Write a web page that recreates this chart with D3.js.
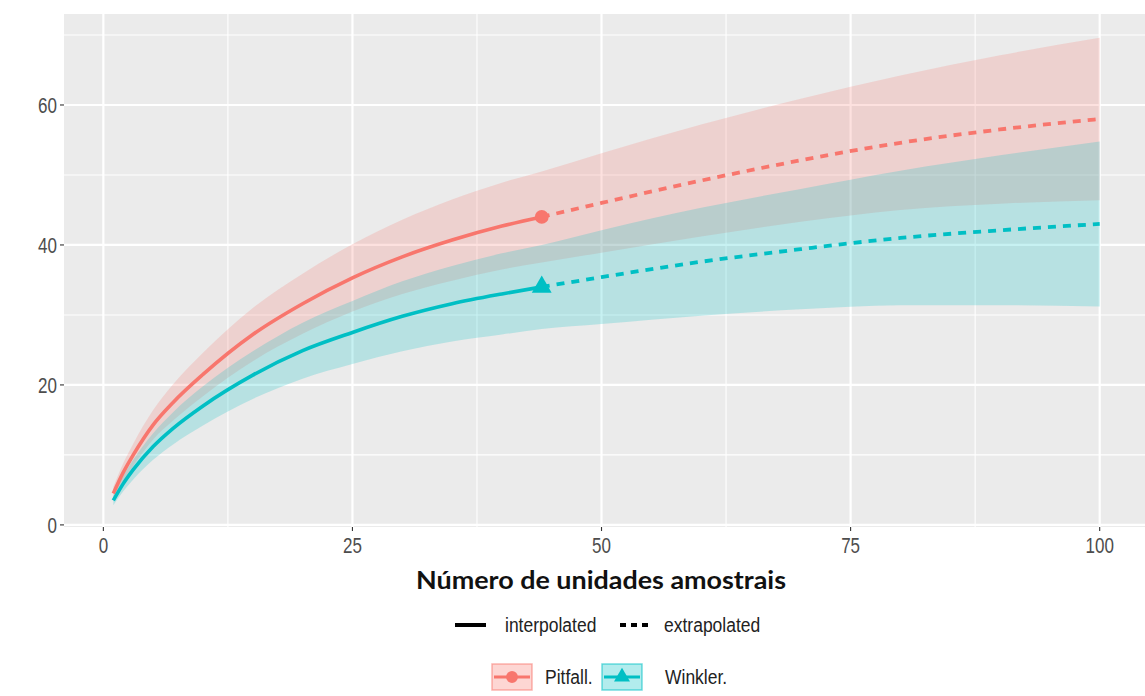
<!DOCTYPE html>
<html>
<head>
<meta charset="utf-8">
<script src="https://cdn.jsdelivr.net/npm/d3@7"></script>
<style>
  body { margin: 0; background: #fff; }
  svg { display: block; }
</style>
</head>
<body>
<svg id="chart" width="1145" height="696"></svg>
<script>
// Sample sizes: observed range (interpolated) and beyond it (extrapolated)
const sampleInterp = [1, 2, 3, 5, 7, 10, 15, 20, 25, 30, 35, 40, 44];
const sampleExtrap = [44, 50, 60, 70, 80, 90, 100];

// Pitfall: richness estimate and 95% band
const pitfallInterp   = [4.5, 7.5, 10.0, 14.3, 17.5, 21.5, 27.2, 31.6, 35.3, 38.3, 40.7, 42.7, 44.0];
const pitfallInterpLo = [3.6, 6.2, 8.4, 12.2, 14.9, 18.4, 23.4, 27.3, 30.5, 33.0, 34.9, 36.5, 37.5];
const pitfallInterpHi = [5.4, 8.8, 11.6, 16.4, 20.1, 24.6, 31.0, 35.9, 40.1, 43.6, 46.5, 48.9, 50.5];
const pitfallExtrap   = [44.0, 46.0, 49.2, 52.1, 54.6, 56.5, 58.0];
const pitfallExtrapLo = [37.5, 38.9, 41.2, 43.3, 45.0, 45.9, 46.4];
const pitfallExtrapHi = [50.5, 53.1, 57.2, 60.9, 64.2, 67.1, 69.6];

// Winkler: richness estimate and 95% band
const winklerInterp   = [3.5, 5.9, 7.9, 11.2, 13.8, 17.0, 21.4, 24.9, 27.5, 29.8, 31.6, 33.0, 34.0];
const winklerInterpLo = [2.8, 4.8, 6.5, 9.3, 11.5, 14.2, 18.0, 20.9, 23.0, 24.8, 26.2, 27.2, 28.0];
const winklerInterpHi = [4.2, 7.0, 9.3, 13.1, 16.1, 19.8, 24.8, 28.9, 32.0, 34.8, 37.0, 38.8, 40.0];
const winklerExtrap   = [34.0, 35.4, 37.6, 39.4, 41.0, 42.1, 43.0];
const winklerExtrapLo = [28.0, 28.7, 29.9, 30.8, 31.4, 31.4, 31.2];
const winklerExtrapHi = [40.0, 42.1, 45.3, 48.0, 50.6, 52.8, 54.8];

const observedSize = 44;
const xTicks = [0, 25, 50, 75, 100];
const yTicks = [0, 20, 40, 60];
const xMinor = [12.5, 37.5, 62.5, 87.5];
const yMinor = [10, 30, 50, 70];

const seriesNames = ["Pitfall.", "Winkler."];
const methodNames = ["interpolated", "extrapolated"];
const colors = ["#F8766D", "#00BFC4"];

const svg = d3.select("#chart");
const panel = { left: 64, top: 14, bottom: 527, right: 1149 };

const x = d3.scaleLinear().domain([-3.95, 104.95]).range([panel.left, panel.right]);
const y = d3.scaleLinear().domain([-0.3, 73]).range([panel.bottom, panel.top]);

const defs = svg.append("defs");
defs.append("clipPath").attr("id", "panelClip")
  .append("rect")
  .attr("x", panel.left).attr("y", panel.top)
  .attr("width", panel.right - panel.left).attr("height", panel.bottom - panel.top);

// panel background
svg.append("rect")
  .attr("x", panel.left).attr("y", panel.top)
  .attr("width", panel.right - panel.left).attr("height", panel.bottom - panel.top)
  .attr("fill", "#EBEBEB");

const grid = svg.append("g").attr("clip-path", "url(#panelClip)");
grid.selectAll(".ymin").data(yMinor).join("line")
  .attr("x1", panel.left).attr("x2", panel.right)
  .attr("y1", d => y(d)).attr("y2", d => y(d))
  .attr("stroke", "#fff").attr("stroke-width", 1.1);
grid.selectAll(".xmin").data(xMinor).join("line")
  .attr("y1", panel.top).attr("y2", panel.bottom)
  .attr("x1", d => x(d)).attr("x2", d => x(d))
  .attr("stroke", "#fff").attr("stroke-width", 1.1);
grid.selectAll(".ymaj").data(yTicks).join("line")
  .attr("x1", panel.left).attr("x2", panel.right)
  .attr("y1", d => y(d)).attr("y2", d => y(d))
  .attr("stroke", "#fff").attr("stroke-width", 2.2);
grid.selectAll(".xmaj").data(xTicks).join("line")
  .attr("y1", panel.top).attr("y2", panel.bottom)
  .attr("x1", d => x(d)).attr("x2", d => x(d))
  .attr("stroke", "#fff").attr("stroke-width", 2.2);

// assemble each series
function build(sInterp, lo1, hi1, sExtrap, lo2, hi2, est1, est2) {
  const band = sampleInterp.map((n, i) => ({ n, lo: lo1[i], hi: hi1[i] }))
    .concat(sampleExtrap.slice(1).map((n, i) => ({ n, lo: lo2[i + 1], hi: hi2[i + 1] })));
  const interp = sampleInterp.map((n, i) => ({ n, v: est1[i] }));
  const extrap = sampleExtrap.map((n, i) => ({ n, v: est2[i] }));
  return { band, interp, extrap };
}
const series = [
  build(sampleInterp, pitfallInterpLo, pitfallInterpHi, sampleExtrap, pitfallExtrapLo, pitfallExtrapHi, pitfallInterp, pitfallExtrap),
  build(sampleInterp, winklerInterpLo, winklerInterpHi, sampleExtrap, winklerExtrapLo, winklerExtrapHi, winklerInterp, winklerExtrap)
];

const area = d3.area().curve(d3.curveMonotoneX)
  .x(d => x(d.n)).y0(d => y(d.lo)).y1(d => y(d.hi));
const line = d3.line().curve(d3.curveMonotoneX)
  .x(d => x(d.n)).y(d => y(d.v));

const plot = svg.append("g").attr("clip-path", "url(#panelClip)");
series.forEach((s, i) => {
  plot.append("path").attr("d", area(s.band))
    .attr("fill", colors[i]).attr("fill-opacity", 0.22);
});
series.forEach((s, i) => {
  plot.append("path").attr("d", line(s.interp))
    .attr("fill", "none").attr("stroke", colors[i]).attr("stroke-width", 3.6);
  plot.append("path").attr("d", line(s.extrap))
    .attr("fill", "none").attr("stroke", colors[i]).attr("stroke-width", 3.8)
    .attr("stroke-dasharray", "8,7");
});
// observed points
const circleSym = d3.symbol().type(d3.symbolCircle).size(150);
const triSym = d3.symbol().type(d3.symbolTriangle).size(170);
plot.append("path").attr("d", circleSym())
  .attr("transform", `translate(${x(observedSize)},${y(pitfallInterp[pitfallInterp.length - 1])})`)
  .attr("fill", colors[0]);
plot.append("path").attr("d", triSym())
  .attr("transform", `translate(${x(observedSize)},${y(winklerInterp[winklerInterp.length - 1])})`)
  .attr("fill", colors[1]);

// text helper: ggplot-like text, slightly tall
function label(g, px, py, str, opt) {
  const o = Object.assign({ size: 17, sy: 1.25, anchor: "middle", fill: "#4D4D4D", weight: "normal",
    family: "'Liberation Sans', Arial, sans-serif" }, opt || {});
  return g.append("text")
    .attr("transform", `translate(${px},${py}) scale(1,${o.sy})`)
    .attr("text-anchor", o.anchor)
    .attr("dy", "0.36em")
    .attr("font-family", o.family)
    .attr("font-size", o.size)
    .attr("font-weight", o.weight)
    .attr("fill", o.fill)
    .text(str);
}

// axes: ticks and labels
const axes = svg.append("g");
axes.selectAll(".xt").data(xTicks).join("line")
  .attr("x1", d => x(d)).attr("x2", d => x(d))
  .attr("y1", panel.bottom).attr("y2", panel.bottom + 4)
  .attr("stroke", "#333").attr("stroke-width", 1.1);
axes.selectAll(".yt").data(yTicks).join("line")
  .attr("x1", panel.left - 4).attr("x2", panel.left)
  .attr("y1", d => y(d)).attr("y2", d => y(d))
  .attr("stroke", "#333").attr("stroke-width", 1.1);
xTicks.forEach(t => label(axes, x(t), 545, String(t)));
yTicks.forEach(t => label(axes, 57, y(t), String(t), { anchor: "end" }));

// axis title
label(svg, 601, 580, "Número de unidades amostrais",
  { size: 22, sy: 1.1, fill: "#111", weight: "bold", family: "Lato, 'Open Sans', sans-serif" })
  .attr("textLength", 370).attr("lengthAdjust", "spacingAndGlyphs");

// legend: line type
const leg1 = svg.append("g");
leg1.append("line").attr("x1", 455).attr("x2", 486).attr("y1", 625).attr("y2", 625)
  .attr("stroke", "#000").attr("stroke-width", 4);
label(leg1, 505, 625, methodNames[0], { size: 17.5, sy: 1.15, anchor: "start", fill: "#222" });
leg1.append("line").attr("x1", 620).attr("x2", 649).attr("y1", 625).attr("y2", 625)
  .attr("stroke", "#000").attr("stroke-width", 4).attr("stroke-dasharray", "6,5");
label(leg1, 664, 625, methodNames[1], { size: 17.5, sy: 1.15, anchor: "start", fill: "#222" });

// legend: series
const leg2 = svg.append("g");
const keys = [
  { x0: 492, sym: circleSym, tx: 545 },
  { x0: 602, sym: triSym, tx: 665 }
];
keys.forEach((k, i) => {
  leg2.append("rect").attr("x", k.x0).attr("y", 664).attr("width", 40).attr("height", 26)
    .attr("fill", colors[i]).attr("fill-opacity", 0.3)
    .attr("stroke", colors[i]).attr("stroke-opacity", 0.55).attr("stroke-width", 1.5);
  leg2.append("line").attr("x1", k.x0 + 2).attr("x2", k.x0 + 38).attr("y1", 677).attr("y2", 677)
    .attr("stroke", colors[i]).attr("stroke-width", 3);
  leg2.append("path").attr("d", k.sym.size(110)())
    .attr("transform", `translate(${k.x0 + 20},677)`).attr("fill", colors[i]);
  label(leg2, k.tx, 677, seriesNames[i], { size: 17.5, sy: 1.15, anchor: "start", fill: "#222" });
});
</script>
</body>
</html>
